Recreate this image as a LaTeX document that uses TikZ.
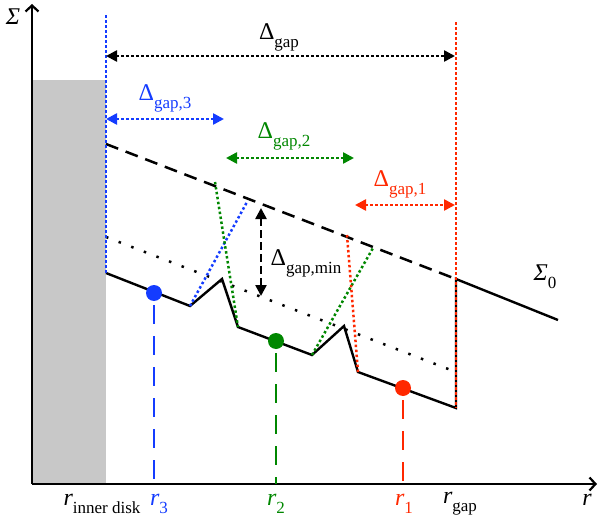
\documentclass[tikz,border=0pt]{standalone}
\usepackage{fontspec}
\setmainfont{Liberation Serif}
\usetikzlibrary{arrows.meta}
\definecolor{myblue}{RGB}{20,60,255}
\definecolor{mygreen}{RGB}{0,135,0}
\definecolor{myred}{RGB}{255,40,0}
\definecolor{mygray}{RGB}{200,200,200}
\newcommand\Dsub[1]{Δ\raisebox{-0.33em}{\fontsize{17}{20}\selectfont #1}}
\newcommand\Rsub[1]{\textit{r}\raisebox{-0.33em}{\fontsize{17}{20}\selectfont #1}}
\tikzset{
  lbl/.style={font=\fontsize{24}{28}\selectfont, inner sep=0pt},
  tri/.tip={Triangle[length=11pt,width=11pt]},
  axis/.style={line width=2.6pt, -{Straight Barb[length=6pt,width=13pt,line width=2.2pt]}},
  curve/.style={line width=2.4pt, line join=miter},
  dotline/.style={line width=2.5pt, dash pattern=on 2.5pt off 2.5pt},
  sparse/.style={line width=2.5pt, dash pattern=on 2.5pt off 11pt},
  longdash/.style={line width=2.5pt, dash pattern=on 13pt off 8pt},
  vdash/.style={line width=2.5pt, dash pattern=on 19pt off 12pt},
  dot/.style={circle, inner sep=0pt, minimum size=16pt},
}
\begin{document}
\begin{tikzpicture}[x=1pt,y=-1pt]
\useasboundingbox (0,0) rectangle (598,522);
% gray inner disk
\fill[mygray] (33,80) rectangle (106,484);
% axes
\coordinate (O) at (32,484);
\coordinate (ytop) at (32,4);
\coordinate (xend) at (597,484);
\draw[axis] (O) -- (ytop);
\draw[axis] (O) -- (xend);
\node[lbl] (sigma) at (13,17) {\textit{Σ}};
% coordinates
\coordinate (s0) at (106,273);
\coordinate (s1) at (190,306);
\coordinate (s2) at (222,279);
\coordinate (s3) at (238,327);
\coordinate (s4) at (312,355);
\coordinate (s5) at (344,326);
\coordinate (s6) at (358,372);
\coordinate (s7) at (456,408);
\coordinate (s8) at (456,279);
\coordinate (s9) at (558,320);
\coordinate (d0) at (106,144);
\coordinate (p0) at (106,237);
\coordinate (p1) at (456,372);
% dashed and dotted reference lines
\draw[longdash] (d0) -- (s8);
\draw[sparse] (p0) -- (p1);
% solid profile
\draw[curve] (s0) -- (s1) -- (s2) -- (s3) -- (s4) -- (s5) -- (s6) -- (s7) -- (s8) -- (s9);
\node[lbl] (sigma0) at (545,277) {\textit{Σ}\raisebox{-0.33em}{\fontsize{17}{20}\selectfont 0}};
% vertical guide lines
\coordinate (bt) at (106,15);
\coordinate (rt) at (456,22);
\draw[dotline, myblue] (bt) -- (s0);
\draw[dotline, myred] (rt) -- (s7);
% colored dotted lines
\coordinate (b1) at (247,202);
\coordinate (g1) at (215,182);
\coordinate (g2) at (373,248);
\coordinate (r1) at (347,235);
\draw[dotline, myblue] (s1) -- (b1);
\draw[dotline, mygreen] (g1) -- (s3);
\draw[dotline, mygreen] (s4) -- (g2);
\draw[dotline, myred] (r1) -- (s6);
% planets
\node[dot, fill=myblue] (pb) at (154,293) {};
\node[dot, fill=mygreen] (pg) at (276,341) {};
\node[dot, fill=myred] (pr) at (403,388) {};
\coordinate (xb) at (154,484);
\coordinate (xg) at (276,484);
\coordinate (xr) at (403,484);
\draw[vdash, myblue] ([yshift=-4pt]pb.south) -- (xb);
\draw[vdash, mygreen] ([yshift=-4pt]pg.south) -- (xg);
\draw[vdash, myred] ([yshift=-4pt]pr.south) -- (xr);
% gap arrows
\coordinate (a0) at (106,56); \coordinate (a1) at (455,56);
\draw[dotline, tri-tri] (a0) -- (a1);
\node[lbl] (Lgap) at (279,37) {\Dsub{gap}};
\coordinate (a30) at (106,119); \coordinate (a31) at (224,119);
\draw[dotline, myblue, tri-tri] (a30) -- (a31);
\node[lbl, myblue] (Lgap3) at (165,98) {\Dsub{gap,3}};
\coordinate (a20) at (226,158); \coordinate (a21) at (354,158);
\draw[dotline, mygreen, tri-tri] (a20) -- (a21);
\node[lbl, mygreen] (Lgap2) at (284,136) {\Dsub{gap,2}};
\coordinate (a10) at (355,205); \coordinate (a11) at (455,205);
\draw[dotline, myred, tri-tri] (a10) -- (a11);
\node[lbl, myred] (Lgap1) at (400,184) {\Dsub{gap,1}};
\coordinate (m0) at (261,208); \coordinate (m1) at (261,296);
\draw[line width=2.5pt, dash pattern=on 8pt off 4pt, tri-tri] (m0) -- (m1);
\node[lbl] (Lmin) at (306,263) {\Dsub{gap,min}};
% axis labels
\node[lbl] (Lin) at (102,504) {\Rsub{inner disk}};
\node[lbl, myblue] (L3) at (159,504) {\Rsub{3}};
\node[lbl, mygreen] (L2) at (276,504) {\Rsub{2}};
\node[lbl, myred] (L1) at (404,504) {\Rsub{1}};
\node[lbl] (Lg) at (460,504) {\Rsub{gap}};
\node[lbl] (Lr) at (587,500) {\textit{r}};
\end{tikzpicture}
\end{document}
